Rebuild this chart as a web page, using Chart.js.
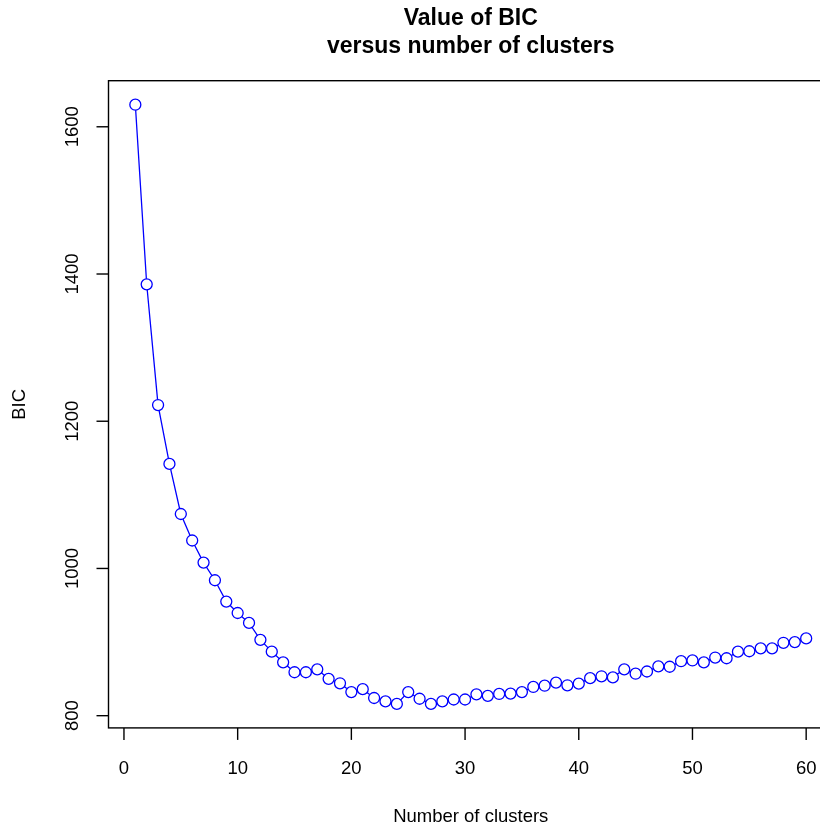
<!DOCTYPE html>
<html>
<head>
<meta charset="utf-8">
<title>Value of BIC versus number of clusters</title>
<script src="https://cdn.jsdelivr.net/npm/chart.js@4/dist/chart.umd.min.js"></script>
<style>
  html, body { margin: 0; padding: 0; background: #fff; overflow: hidden; }
  #wrap { width: 850px; height: 826px; }
</style>
</head>
<body>
<div id="wrap"><canvas id="bicChart" width="850" height="826"></canvas></div>
<script>
/* ── Data ── */
const clusters = [
  1, 2, 3, 4, 5, 6, 7, 8, 9, 10, 11, 12, 13, 14, 15, 16, 17, 18, 19, 20,
  21, 22, 23, 24, 25, 26, 27, 28, 29, 30, 31, 32, 33, 34, 35, 36, 37, 38, 39, 40,
  41, 42, 43, 44, 45, 46, 47, 48, 49, 50, 51, 52, 53, 54, 55, 56, 57, 58, 59, 60
];
const bicValues = [
  1630, 1386, 1222, 1142, 1074, 1038, 1008, 984, 955, 939.5,
  926, 903, 887, 872.5, 859, 859, 863, 850, 844, 832,
  836, 824, 819.5, 816, 832, 823, 816, 819.5, 822, 822,
  829, 827, 829.5, 830, 832, 839, 840.7, 845, 841.3, 843.5,
  851, 853.5, 852, 863, 857, 860, 867, 866.5, 874, 875,
  872.5, 879, 878, 887, 887.5, 891.5, 891.5, 899, 900, 905
];
const xTicks = [0, 10, 20, 30, 40, 50, 60];
const yTicks = [800, 1000, 1200, 1400, 1600];

const titleLines = ['Value of BIC', 'versus number of clusters'];
const xLabel = 'Number of clusters';
const yLabel = 'BIC';

/* ── R-style frame, ticks and labels ── */
const FONT = "'Liberation Sans', Arial, sans-serif";
const TICK_LEN = 12;

const basePlotFrame = {
  id: 'basePlotFrame',
  afterDraw(chart) {
    const { ctx, chartArea: a, scales } = chart;
    const xs = scales.x;
    const ys = scales.y;
    ctx.save();
    ctx.strokeStyle = '#000';
    ctx.fillStyle = '#000';
    ctx.lineWidth = 1.4;

    // box
    ctx.strokeRect(a.left, a.top, a.right - a.left, a.bottom - a.top);

    // x axis
    ctx.font = `18.5px ${FONT}`;
    ctx.textAlign = 'center';
    ctx.textBaseline = 'alphabetic';
    xTicks.forEach((t) => {
      const px = xs.getPixelForValue(t);
      ctx.beginPath();
      ctx.moveTo(px, a.bottom);
      ctx.lineTo(px, a.bottom + TICK_LEN);
      ctx.stroke();
      ctx.fillText(String(t), px, 774);
    });

    // y axis (labels turned like R's las=0)
    yTicks.forEach((t) => {
      const py = ys.getPixelForValue(t);
      ctx.beginPath();
      ctx.moveTo(a.left - TICK_LEN, py);
      ctx.lineTo(a.left, py);
      ctx.stroke();
      ctx.save();
      ctx.translate(78.3, py);
      ctx.rotate(-Math.PI / 2);
      ctx.fillText(String(t), 0, 0);
      ctx.restore();
    });

    // axis titles
    const midX = (a.left + a.right) / 2;
    const midY = (a.top + a.bottom) / 2;
    ctx.fillText(xLabel, midX, 821.7);
    ctx.save();
    ctx.translate(25, midY);
    ctx.rotate(-Math.PI / 2);
    ctx.fillText(yLabel, 0, 0);
    ctx.restore();

    // main title
    ctx.font = `bold 23px ${FONT}`;
    ctx.fillText(titleLines[0], midX, 25);
    ctx.fillText(titleLines[1], midX, 52.5);
    ctx.restore();
  },
};

/* ── Chart ── */
new Chart(document.getElementById('bicChart'), {
  type: 'line',
  data: {
    labels: clusters,
    datasets: [
      {
        data: clusters.map((c, i) => ({ x: c, y: bicValues[i] })),
        borderColor: '#0000ff',
        borderWidth: 1.3,
        pointStyle: 'circle',
        pointRadius: 5.5,
        pointBorderWidth: 1.3,
        pointBorderColor: '#0000ff',
        pointBackgroundColor: '#ffffff',
        tension: 0,
        fill: false,
      },
    ],
  },
  options: {
    responsive: false,
    animation: false,
    events: [],
    layout: {
      padding: { left: 108.5, right: 17, top: 80.7, bottom: 98.1 },
    },
    plugins: {
      legend: { display: false },
      tooltip: { enabled: false },
    },
    scales: {
      x: { type: 'linear', display: false, min: -1.36, max: 62.36 },
      y: { type: 'linear', display: false, min: 783.4, max: 1662.6 },
    },
  },
  plugins: [basePlotFrame],
});
</script>
</body>
</html>
